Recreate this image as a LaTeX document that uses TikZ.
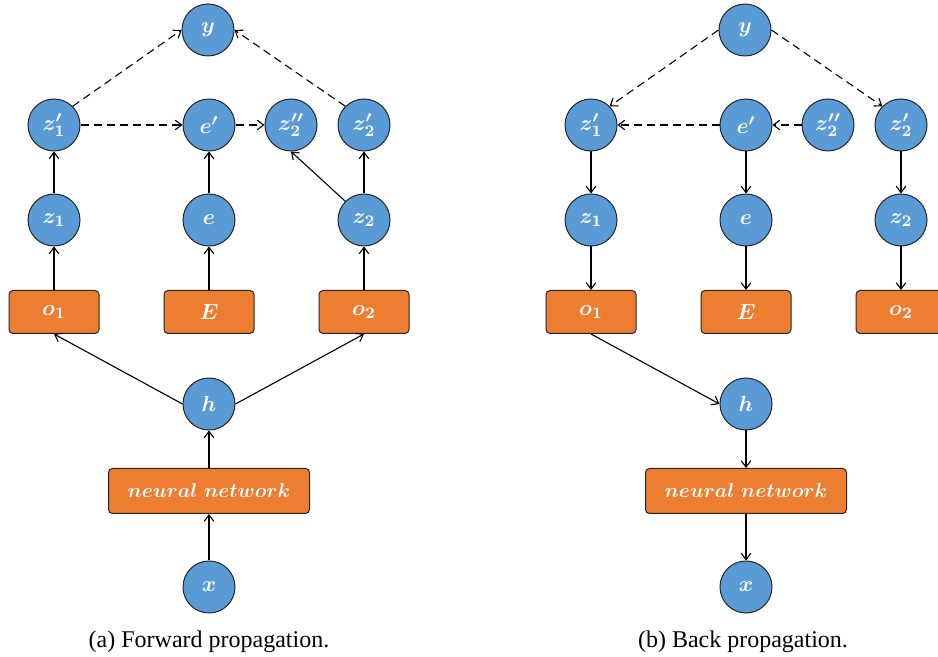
\documentclass[tikz,border=0pt]{standalone}
\usepackage{amsmath,amssymb}
\usepackage{fontspec}
\newfontfamily\capfont{Liberation Serif}
\usetikzlibrary{arrows.meta}

\definecolor{varblue}{HTML}{5B9BD5}
\definecolor{obsorange}{HTML}{ED7D31}

\begin{document}
\begin{tikzpicture}[x=0.5pt, y=-0.5pt,
    var_node/.style={circle, draw=black!85, fill=varblue, text=white, line width=0.5pt,
        minimum size=26pt, inner sep=0pt, font=\fontsize{11}{13}\selectfont},
    obs_node/.style={rectangle, rounded corners=2pt, draw=black!85, fill=obsorange, text=white,
        line width=0.5pt, minimum width=45pt, minimum height=21.5pt, inner sep=0pt,
        font=\fontsize{11}{13}\selectfont},
    edge/.style={-{Straight Barb[length=3.2pt, width=4.8pt]}, line width=0.55pt},
    dash_edge/.style={edge, dash pattern=on 4pt off 2.5pt},
    cap_node/.style={font=\capfont\fontsize{12}{14}\selectfont}]

    \useasboundingbox (0,0) rectangle (938,657);

    % (a) forward
    \node[var_node] (y) at (208,30) {$\boldsymbol{y}$};
    \node[var_node] (z1p) at (54,125) {$\boldsymbol{z_1'}$};
    \node[var_node] (ep) at (209,125) {$\boldsymbol{e'}$};
    \node[var_node] (z2pp) at (291,125) {$\boldsymbol{z_2''}$};
    \node[var_node] (z2p) at (364,125) {$\boldsymbol{z_2'}$};
    \node[var_node] (z1) at (54,220) {$\boldsymbol{z_1}$};
    \node[var_node] (e) at (209,220) {$\boldsymbol{e}$};
    \node[var_node] (z2) at (364,220) {$\boldsymbol{z_2}$};
    \node[obs_node] (o1) at (54,312) {$\boldsymbol{o_1}$};
    \node[obs_node] (E) at (209,312) {$\boldsymbol{E}$};
    \node[obs_node] (o2) at (364,312) {$\boldsymbol{o_2}$};
    \node[var_node] (h) at (209,404) {$\boldsymbol{h}$};
    \node[obs_node, minimum width=100.5pt, minimum height=22.5pt, font=\fontsize{10}{12}\selectfont] (nn) at (209,491) {$\boldsymbol{neural\;network}$};
    \node[var_node] (x) at (209,587) {$\boldsymbol{x}$};
    \node[cap_node] (capa) at (209,642) {(a) Forward propagation.};

    \draw[dash_edge] (z1p.45) -- (y.west);
    \draw[dash_edge] (z2p.135) -- (y.east);
    \draw[dash_edge] (z1p) -- (ep);
    \draw[dash_edge] (ep) -- (z2pp);
    \draw[edge] (z1) -- (z1p);
    \draw[edge] (e) -- (ep);
    \draw[edge] (z2) -- (z2p);
    \draw[edge] (z2.135) -- (z2pp.south);
    \draw[edge] (o1) -- (z1);
    \draw[edge] (E) -- (e);
    \draw[edge] (o2) -- (z2);
    \draw[edge] (h.west) -- (o1.south);
    \draw[edge] (h.east) -- (o2.south);
    \draw[edge] (nn) -- (h);
    \draw[edge] (x) -- (nn);

    % (b) back
    \node[var_node] (by) at (745,30) {$\boldsymbol{y}$};
    \node[var_node] (bz1p) at (591,125) {$\boldsymbol{z_1'}$};
    \node[var_node] (bep) at (746,125) {$\boldsymbol{e'}$};
    \node[var_node] (bz2pp) at (828,125) {$\boldsymbol{z_2''}$};
    \node[var_node] (bz2p) at (901,125) {$\boldsymbol{z_2'}$};
    \node[var_node] (bz1) at (591,220) {$\boldsymbol{z_1}$};
    \node[var_node] (be) at (746,220) {$\boldsymbol{e}$};
    \node[var_node] (bz2) at (901,220) {$\boldsymbol{z_2}$};
    \node[obs_node] (bo1) at (591,312) {$\boldsymbol{o_1}$};
    \node[obs_node] (bE) at (746,312) {$\boldsymbol{E}$};
    \node[obs_node] (bo2) at (901,312) {$\boldsymbol{o_2}$};
    \node[var_node] (bh) at (746,404) {$\boldsymbol{h}$};
    \node[obs_node, minimum width=100.5pt, minimum height=22.5pt, font=\fontsize{10}{12}\selectfont] (bnn) at (746,491) {$\boldsymbol{neural\;network}$};
    \node[var_node] (bx) at (746,587) {$\boldsymbol{x}$};
    \node[cap_node] (capb) at (743,642) {(b) Back propagation.};

    \draw[dash_edge] (by.west) -- (bz1p.45);
    \draw[dash_edge] (by.east) -- (bz2p.135);
    \draw[dash_edge] (bep) -- (bz1p);
    \draw[dash_edge] (bz2pp) -- (bep);
    \draw[edge] (bz1p) -- (bz1);
    \draw[edge] (bep) -- (be);
    \draw[edge] (bz2p) -- (bz2);
    \draw[edge] (bz1) -- (bo1);
    \draw[edge] (be) -- (bE);
    \draw[edge] (bz2) -- (bo2);
    \draw[edge] (bo1.south) -- (bh.west);
    \draw[edge] (bh) -- (bnn);
    \draw[edge] (bnn) -- (bx);
\end{tikzpicture}
\end{document}
